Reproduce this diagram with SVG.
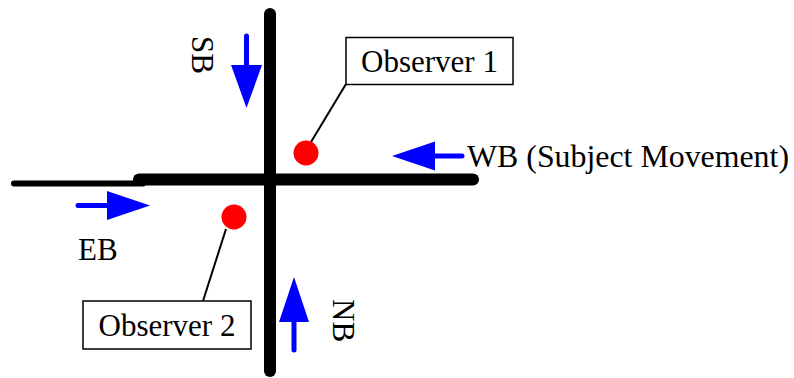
<svg xmlns="http://www.w3.org/2000/svg" width="794" height="378" viewBox="0 0 794 378">
<style>
.road{stroke:#000;stroke-linecap:round;fill:none}
.arr{stroke:#0000ff;stroke-width:5;stroke-linecap:round;fill:none}
.head{fill:#0000ff}
.lbl{font-family:"Liberation Serif","Times New Roman",serif;font-size:31px;fill:#000}
.box{fill:#fff;stroke:#000;stroke-width:1.5}
.lead{stroke:#000;stroke-width:2;fill:none}
.dot{fill:#ff0000}
</style>
<rect width="794" height="378" fill="#fff"/>
<g id="connectors">
<line class="road" x1="14" y1="183.5" x2="143" y2="183.5" stroke-width="6"/>
<line class="road" x1="139" y1="179.5" x2="473" y2="179.5" stroke-width="12"/>
<line class="road" x1="270" y1="14" x2="270" y2="371" stroke-width="12"/>
<line class="lead" x1="346" y1="84" x2="311" y2="142"/>
<line class="lead" x1="226" y1="229" x2="203" y2="301"/>
</g>
<g id="arrow-sb">
<line class="arr" x1="246.5" y1="36" x2="246.5" y2="68"/>
<polygon class="head" points="231,65 262,65 246.5,108"/>
</g>
<g id="arrow-nb">
<line class="arr" x1="294" y1="350" x2="294" y2="318"/>
<polygon class="head" points="279,322 309,322 294,277"/>
</g>
<g id="arrow-eb">
<line class="arr" x1="78" y1="205.5" x2="110" y2="205.5"/>
<polygon class="head" points="107,191 107,220 150,205.5"/>
</g>
<g id="arrow-wb">
<line class="arr" x1="462" y1="156" x2="430" y2="156"/>
<polygon class="head" points="435,141.5 435,170.5 392,156"/>
</g>
<g id="label-sb"><text class="lbl" transform="translate(192,36) rotate(90)">SB</text></g>
<g id="label-nb"><text class="lbl" transform="translate(333,299) rotate(90)">NB</text></g>
<g id="label-eb"><text class="lbl" x="78" y="260">EB</text></g>
<g id="label-wb"><text class="lbl" x="467" y="167" textLength="322" lengthAdjust="spacingAndGlyphs">WB (Subject Movement)</text></g>
<g id="observer1">
<circle class="dot" cx="306" cy="153" r="12.5"/>
<rect class="box" x="346" y="37.5" width="167" height="47"/>
<text class="lbl" x="429.5" y="72" text-anchor="middle">Observer 1</text>
</g>
<g id="observer2">
<circle class="dot" cx="234" cy="217" r="12.5"/>
<rect class="box" x="83" y="301" width="168" height="48"/>
<text class="lbl" x="167" y="335.5" text-anchor="middle">Observer 2</text>
</g>
</svg>
